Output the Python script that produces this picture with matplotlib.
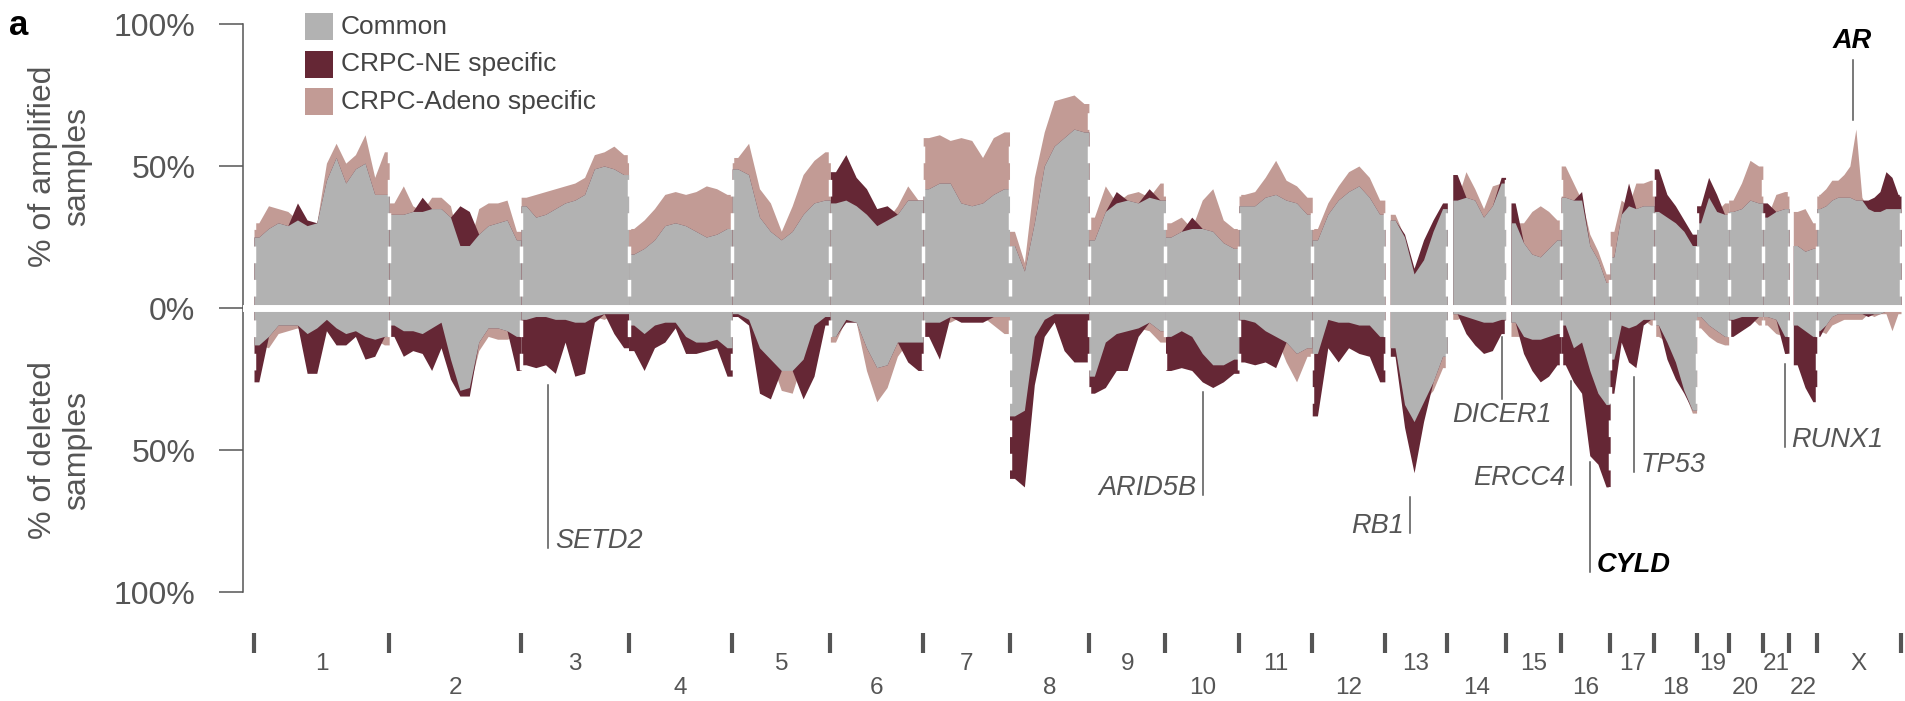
import numpy as np
import matplotlib
matplotlib.use("Agg")
import matplotlib.pyplot as plt
from matplotlib.patches import Rectangle

plt.rcParams['font.family'] = ['Liberation Sans', 'DejaVu Sans']
plt.rcParams['lines.scale_dashes'] = False

# Chromosomes (hg19 lengths, Mb)
CHROMS = ['1', '2', '3', '4', '5', '6', '7', '8', '9', '10', '11', '12',
          '13', '14', '15', '16', '17', '18', '19', '20', '21', '22', 'X']
CHROM_LEN_MB = [249.25, 243.20, 198.02, 191.15, 180.92, 171.12, 159.14, 146.36,
                141.21, 135.53, 135.01, 133.85, 115.17, 107.35, 102.53, 90.35,
                81.20, 78.08, 59.13, 63.03, 48.13, 51.30, 155.27]
# no data on the short arm of acrocentric chromosomes
P_ARM_GAP_MB = {'13': 10, '14': 10, '15': 10, '22': 8}

# % of amplified samples, evenly spaced along each chromosome
AMP_NE = {
    '1': [25, 28, 30, 29, 37, 31, 30, 45, 53, 44, 49, 51, 40, 40],
    '2': [33, 33, 34, 39, 35, 35, 32, 36, 34, 26, 29, 30, 31, 24],
    '3': [36, 32, 33, 35, 37, 38, 40, 49, 50, 49, 47],
    '4': [19, 21, 24, 29, 30, 29, 27, 25, 26, 28],
    '5': [49, 47, 32, 27, 24, 27, 33, 37, 38],
    '6': [48, 54, 46, 42, 35, 36, 33, 38, 38],
    '7': [42, 44, 44, 37, 36, 37, 40, 42],
    '8': [22, 13, 30, 50, 57, 60, 63, 62],
    '9': [24, 34, 41, 38, 37, 42, 38],
    '10': [25, 27, 32, 28, 27, 23, 21],
    '11': [36, 36, 39, 40, 38, 37, 33],
    '12': [24, 33, 38, 41, 43, 39, 33],
    '13': [31, 26, 14, 24, 31, 37],
    '14': [47, 39, 38, 32, 36, 46],
    '15': [37, 23, 19, 18, 21, 24],
    '16': [39, 38, 41, 22, 17, 9],
    '17': [18, 33, 44, 35, 36, 36],
    '18': [49, 40, 36, 31, 26],
    '19': [36, 46, 40, 33],
    '20': [34, 35, 38, 37],
    '21': [37, 34, 35],
    '22': [22, 20, 21],
    'X': [35, 36, 38, 39, 39, 39, 38, 38, 38, 39, 41, 48, 46, 40],
}
AMP_ADENO = {
    '1': [30, 36, 35, 34, 31, 29, 30, 51, 58, 51, 54, 61, 46, 55],
    '2': [37, 43, 36, 34, 39, 39, 36, 22, 22, 35, 37, 37, 38, 27],
    '3': [39, 40, 41, 42, 43, 44, 46, 54, 55, 57, 54],
    '4': [28, 31, 35, 40, 41, 40, 41, 43, 42, 40],
    '5': [53, 58, 42, 37, 27, 36, 47, 52, 55],
    '6': [37, 38, 36, 33, 29, 31, 36, 43, 38],
    '7': [60, 61, 59, 60, 59, 53, 60, 62],
    '8': [27, 16, 46, 62, 73, 74, 75, 72],
    '9': [32, 43, 37, 40, 41, 39, 44],
    '10': [30, 32, 28, 38, 42, 31, 28],
    '11': [40, 41, 46, 52, 45, 43, 39],
    '12': [28, 37, 43, 48, 50, 46, 38],
    '13': [33, 25, 12, 17, 27, 35],
    '14': [38, 48, 42, 35, 43, 44],
    '15': [30, 30, 34, 36, 34, 31],
    '16': [50, 44, 38, 26, 20, 12],
    '17': [27, 38, 36, 44, 44, 45],
    '18': [34, 32, 30, 27, 22],
    '19': [30, 39, 34, 37],
    '20': [38, 44, 52, 50],
    '21': [32, 40, 41],
    '22': [34, 35, 30],
    'X': [40, 42, 45, 45, 47, 50, 63, 39, 35, 34, 34, 35, 35, 35],
}

# % of deleted samples
DEL_NE = {
    '1': [26, 10, 6, 6, 6, 23, 23, 8, 13, 13, 10, 18, 17, 10],
    '2': [10, 17, 15, 16, 22, 14, 25, 31, 31, 12, 7, 7, 8, 22],
    '3': [20, 21, 20, 23, 12, 24, 23, 5, 2, 9, 14],
    '4': [15, 22, 14, 12, 7, 16, 16, 15, 14, 24],
    '5': [3, 6, 30, 32, 22, 22, 32, 24, 6],
    '6': [10, 5, 5, 14, 21, 20, 12, 19, 22],
    '7': [10, 18, 3, 5, 5, 5, 3, 3],
    '8': [60, 63, 27, 10, 5, 15, 19, 19],
    '9': [30, 28, 22, 22, 10, 5, 8],
    '10': [22, 21, 22, 26, 28, 26, 23],
    '11': [19, 20, 19, 21, 12, 16, 14],
    '12': [38, 14, 19, 14, 16, 17, 26],
    '13': [17, 42, 58, 40, 26, 17],
    '14': [2, 9, 13, 16, 15, 9],
    '15': [5, 16, 22, 26, 24, 20],
    '16': [20, 26, 30, 52, 55, 63],
    '17': [30, 12, 19, 21, 6, 4],
    '18': [6, 18, 25, 30, 36],
    '19': [3, 6, 8, 10],
    '20': [10, 8, 6, 3],
    '21': [3, 4, 16],
    '22': [20, 28, 33],
    'X': [10, 6, 3, 2, 2, 2, 2, 2, 3, 2, 2, 1, 1, 1],
}
DEL_ADENO = {
    '1': [13, 14, 9, 8, 7, 9, 7, 4, 7, 9, 8, 10, 11, 13],
    '2': [6, 8, 8, 9, 7, 5, 18, 29, 28, 15, 10, 11, 11, 10],
    '3': [4, 3, 3, 4, 4, 5, 5, 3, 4, 2, 2],
    '4': [6, 9, 6, 5, 5, 10, 12, 12, 11, 14],
    '5': [2, 4, 14, 18, 29, 30, 18, 6, 3],
    '6': [12, 4, 5, 22, 33, 28, 17, 12, 12],
    '7': [5, 5, 5, 3, 3, 3, 6, 9],
    '8': [38, 36, 10, 4, 2, 2, 2, 2],
    '9': [24, 12, 9, 8, 7, 8, 12],
    '10': [10, 8, 10, 16, 20, 20, 18],
    '11': [4, 5, 8, 10, 19, 26, 17],
    '12': [16, 4, 5, 5, 6, 6, 10],
    '13': [14, 34, 40, 33, 29, 21],
    '14': [4, 3, 4, 5, 5, 4],
    '15': [10, 10, 11, 11, 10, 9],
    '16': [6, 14, 12, 22, 30, 34],
    '17': [18, 6, 7, 6, 4, 6],
    '18': [10, 12, 19, 29, 37],
    '19': [7, 10, 12, 13],
    '20': [4, 3, 3, 6],
    '21': [6, 9, 10],
    '22': [6, 8, 10],
    'X': [8, 9, 6, 5, 4, 4, 4, 4, 2, 3, 2, 2, 8, 2],
}

# labelled genes: chromosome, position within chromosome (Mb)
GENES = ['SETD2', 'ARID5B', 'RB1', 'DICER1', 'ERCC4', 'CYLD', 'TP53', 'RUNX1', 'AR']
GENE_CHROM = ['3', '10', '13', '14', '16', '16', '17', '21', 'X']
GENE_POS_MB = [49.5, 69, 46, 100.5, 19, 53, 43.5, 40, 66]

# leader line extent (% axis) and where the text sits
GENE_LINE = [(-27, -84.5), (-29.7, -65.7), (-66.4, -79.2), (-10.2, -32.2),
             (-25.8, -62.2), (-54.4, -92.9), (-24.4, -57.6), (-19.8, -48.8),
             (66.3, 87.4)]
GENE_SIDE = ['right', 'left', 'left', 'below', 'left', 'right', 'right', 'right', 'above']
GENE_BOLD = [False, False, False, False, False, True, False, False, True]

C_COMMON = '#b2b2b2'
C_NE = '#652735'
C_ADENO = '#c29b95'
TXT = '#555555'

starts = np.concatenate([[0], np.cumsum(CHROM_LEN_MB)[:-1]])
ends = np.cumsum(CHROM_LEN_MB)
total = ends[-1]

fig = plt.figure(figsize=(19.05, 7.01), dpi=100)
ax = fig.add_axes([243 / 1905, 109 / 701, 1662 / 1905, 568 / 701])

px_per_mb = (1901 - 254) / total
ax.set_xlim(-(254 - 243) / px_per_mb, (1905 - 254) / px_per_mb)
ax.set_ylim(-100, 100)


def chrom_x(i, n):
    c = CHROMS[i]
    s = starts[i] + P_ARM_GAP_MB.get(c, 0)
    e = ends[i]
    step = (e - s) / n
    centers = s + step * (np.arange(n) + 0.5)
    return np.concatenate([[s], centers, [e]])


def pad(v):
    v = np.asarray(v, dtype=float)
    return np.concatenate([[v[0]], v, [v[-1]]])


for i, c in enumerate(CHROMS):
    for ne_d, ad_d, sign in [(AMP_NE, AMP_ADENO, 1), (DEL_NE, DEL_ADENO, -1)]:
        ne = pad(ne_d[c])
        ad = pad(ad_d[c])
        x = chrom_x(i, len(ne_d[c]))
        ax.fill_between(x, 0, sign * ad, color=C_ADENO, lw=0)
        ax.fill_between(x, 0, sign * ne, color=C_NE, lw=0)
        ax.fill_between(x, 0, sign * np.minimum(ne, ad), color=C_COMMON, lw=0)

# white separators
ax.axhline(0, color='white', lw=5, zorder=3)
bounds = np.concatenate([[0], ends])
for b in bounds:
    ax.plot([b, b], [0, 100], color='white', lw=2.5, ls=(15.4, (12, 12)), zorder=3)
    ax.plot([b, b], [0, -100], color='white', lw=2.5, ls=(15.4, (12, 12)), zorder=3)

# chromosome ticks and labels below
ax.vlines(bounds, -121.5, -114.5, color=TXT, lw=3, clip_on=False)
for i, c in enumerate(CHROMS):
    mid = (starts[i] + ends[i]) / 2
    row = -125.4 if (c == 'X' or int(c) % 2 == 1) else -133.9
    ax.text(mid, row, c, ha='center', va='center', fontsize=17.5, color=TXT, clip_on=False)

# gene annotations
for g, c, pos, (y0, y1), side, bold in zip(GENES, GENE_CHROM, GENE_POS_MB, GENE_LINE, GENE_SIDE, GENE_BOLD):
    x = starts[CHROMS.index(c)] + pos
    ax.plot([x, x], [y0, y1], color=TXT, lw=1.1, zorder=4)
    kw = dict(textcoords='offset points', fontsize=19.5, style='italic',
              color='black' if bold else TXT, fontweight='bold' if bold else 'normal',
              annotation_clip=False)
    if side == 'right':
        ax.annotate(g, (x, y1), xytext=(5, 0), ha='left', va='baseline', **kw)
    elif side == 'left':
        ax.annotate(g, (x, y1), xytext=(-4.5, 0), ha='right', va='baseline', **kw)
    elif side == 'below':
        ax.annotate(g, (x, y1), xytext=(0, -2), ha='center', va='top', **kw)
    else:
        ax.annotate(g, (x, y1), xytext=(0, 8.6), ha='center', va='baseline', **kw)

# axes styling
for s in ['top', 'right', 'bottom']:
    ax.spines[s].set_visible(False)
ax.spines['left'].set_color(TXT)
ax.spines['left'].set_linewidth(1.1)
ax.set_xticks([])
ax.set_yticks([100, 50, 0, -50, -100])
ax.set_yticklabels(['100%', '50%', '0%', '50%', '100%'])
ax.tick_params(axis='y', length=17.3, width=1.1, color=TXT, labelcolor=TXT,
               labelsize=23, pad=17)

ytr = ax.get_yaxis_transform()
ax.text(-0.110, 50, '% of amplified\nsamples', transform=ytr, rotation=90,
        ha='center', va='center', fontsize=23, color=TXT, linespacing=1.15)
ax.text(-0.110, -50, '% of deleted\nsamples', transform=ytr, rotation=90,
        ha='center', va='center', fontsize=23, color=TXT, linespacing=1.15)

fig.text(9 / 1905, 1 - 35 / 701, 'a', fontsize=25, fontweight='bold', va='baseline')

# legend
leg_labels = ['Common', 'CRPC-NE specific', 'CRPC-Adeno specific']
leg_colors = [C_COMMON, C_NE, C_ADENO]
for k, (lab, col) in enumerate(zip(leg_labels, leg_colors)):
    top = 13 + k * 37.5
    fig.add_artist(Rectangle((305 / 1905, 1 - (top + 27) / 701), 28 / 1905, 27 / 701,
                             transform=fig.transFigure, color=col, lw=0))
    fig.text(341 / 1905, 1 - (top + 14) / 701, lab, fontsize=19, color='#444444',
             va='center', ha='left')

fig.savefig('out.png', dpi=100)
